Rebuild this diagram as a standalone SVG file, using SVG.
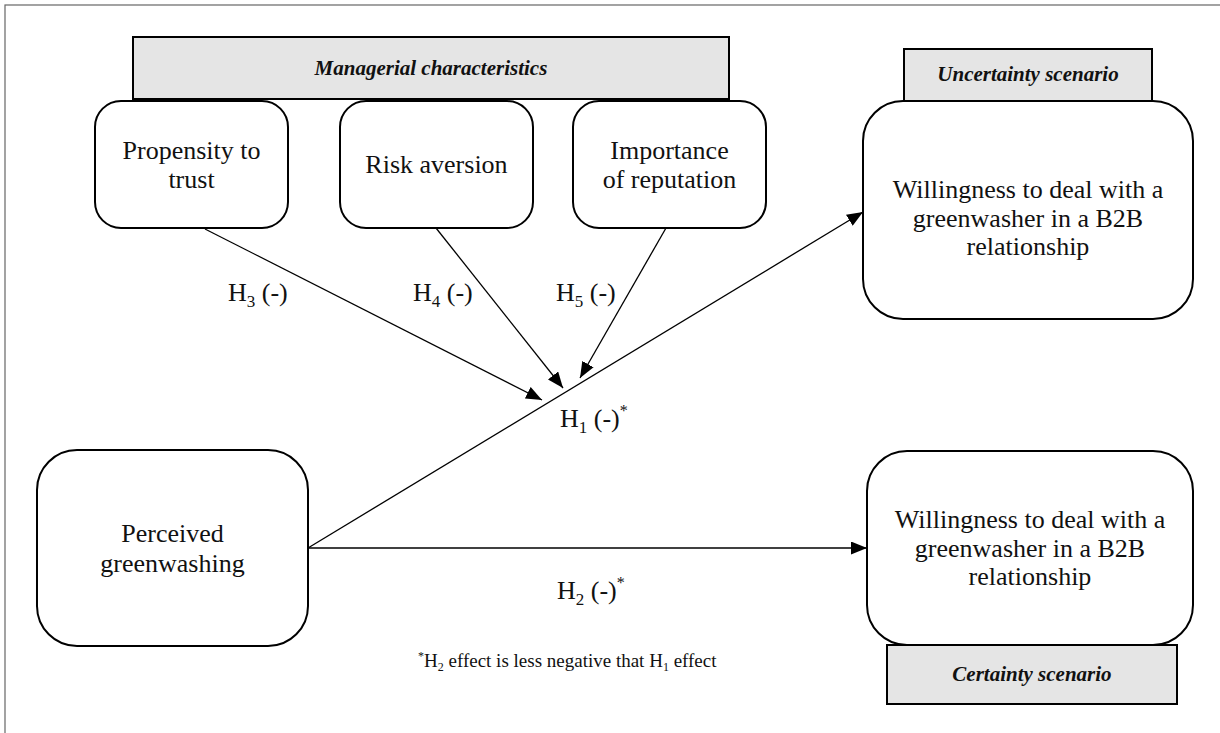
<svg xmlns="http://www.w3.org/2000/svg" width="1220" height="733" viewBox="0 0 1220 733">
<defs>
<style>
.frame{fill:none;stroke:#666;stroke-width:1.2}
.hdr{fill:#e5e5e5;stroke:#000;stroke-width:2}
.node{fill:#fff;stroke:#000;stroke-width:2}
.t{font-family:"Liberation Serif","Times New Roman",serif;font-size:26px;fill:#111;text-anchor:middle}
.h{font-family:"Liberation Serif","Times New Roman",serif;font-size:21px;font-weight:bold;font-style:italic;fill:#111;text-anchor:middle}
.lab{font-family:"Liberation Serif","Times New Roman",serif;font-size:26px;fill:#111}
.fn{font-family:"Liberation Serif","Times New Roman",serif;font-size:19px;fill:#111}
.c{fill:none;stroke:#000;stroke-width:1.3}
</style>
<marker id="ah" markerUnits="userSpaceOnUse" markerWidth="17" markerHeight="13" refX="16" refY="6.5" orient="auto">
<path d="M0,0 L16,6.5 L0,13 z" fill="#000"/>
</marker>
</defs>
<rect width="1220" height="733" fill="#fff"/>
<rect class="frame" x="5" y="5" width="1240" height="760"/>

<g id="managerial">
<rect class="hdr" x="133" y="37" width="596" height="62"/>
<text class="h" x="431" y="75">Managerial characteristics</text>
</g>
<g id="propensity">
<rect class="node" x="95" y="101" width="193" height="127" rx="26"/>
<text class="t" x="191.5" y="159">Propensity to</text>
<text class="t" x="191.5" y="188">trust</text>
</g>
<g id="risk">
<rect class="node" x="340" y="101" width="193" height="127" rx="26"/>
<text class="t" x="436.5" y="173">Risk aversion</text>
</g>
<g id="reputation">
<rect class="node" x="573" y="101" width="193" height="127" rx="26"/>
<text class="t" x="669.5" y="159">Importance</text>
<text class="t" x="669.5" y="188">of reputation</text>
</g>
<g id="uncertainty">
<rect class="hdr" x="904" y="49" width="248" height="53"/>
<text class="h" x="1028" y="81">Uncertainty scenario</text>
</g>
<g id="willingness1">
<rect class="node" x="863" y="101" width="330" height="218" rx="40"/>
<text class="t" x="1028" y="198">Willingness to deal with a</text>
<text class="t" x="1028" y="227">greenwasher in a B2B</text>
<text class="t" x="1028" y="255">relationship</text>
</g>
<g id="certainty">
<rect class="hdr" x="887" y="645" width="290" height="59"/>
<text class="h" x="1032" y="681">Certainty scenario</text>
</g>
<g id="willingness2">
<rect class="node" x="867" y="451" width="326" height="194" rx="40"/>
<text class="t" x="1030" y="528">Willingness to deal with a</text>
<text class="t" x="1030" y="557">greenwasher in a B2B</text>
<text class="t" x="1030" y="585">relationship</text>
</g>
<g id="perceived">
<rect class="node" x="37" y="450" width="271" height="196" rx="40"/>
<text class="t" x="172.5" y="542">Perceived</text>
<text class="t" x="172.5" y="572">greenwashing</text>
</g>

<g id="connectors">
<line class="c" x1="205" y1="229" x2="542" y2="400" marker-end="url(#ah)"/>
<line class="c" x1="436" y1="228" x2="563" y2="388" marker-end="url(#ah)"/>
<line class="c" x1="666" y1="228" x2="580" y2="378" marker-end="url(#ah)"/>
<line class="c" x1="308" y1="548" x2="863" y2="212" marker-end="url(#ah)"/>
<line class="c" x1="308" y1="548" x2="867" y2="548" marker-end="url(#ah)"/>
</g>

<g id="labels">
<text class="lab" x="228" y="301">H<tspan font-size="17" dy="6">3</tspan><tspan dy="-6"> (-)</tspan></text>
<text class="lab" x="413" y="301">H<tspan font-size="17" dy="6">4</tspan><tspan dy="-6"> (-)</tspan></text>
<text class="lab" x="556" y="301">H<tspan font-size="17" dy="6">5</tspan><tspan dy="-6"> (-)</tspan></text>
<text class="lab" x="560" y="427">H<tspan font-size="17" dy="6">1</tspan><tspan dy="-6"> (-)</tspan><tspan font-size="16" dy="-11">*</tspan></text>
<text class="lab" x="557" y="599">H<tspan font-size="17" dy="6">2</tspan><tspan dy="-6"> (-)</tspan><tspan font-size="16" dy="-11">*</tspan></text>
<text class="fn" x="418" y="667"><tspan font-size="12" dy="-7">*</tspan><tspan dy="7">H</tspan><tspan font-size="12" dy="4">2</tspan><tspan dy="-4"> effect is less negative that H</tspan><tspan font-size="12" dy="4">1</tspan><tspan dy="-4"> effect</tspan></text>
</g>
</svg>
